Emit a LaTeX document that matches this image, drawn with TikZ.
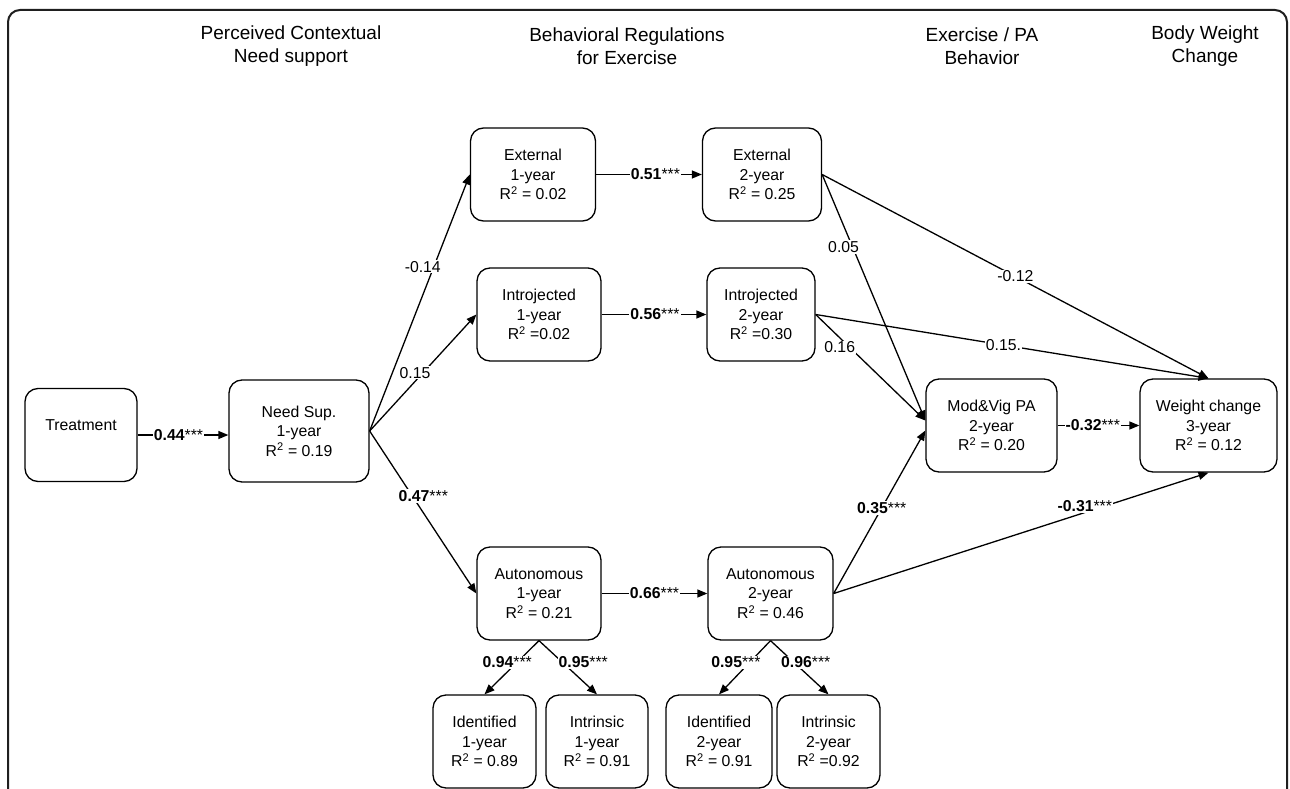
\documentclass[tikz,border=0pt]{standalone}
\usepackage{fontspec}
\setmainfont{Liberation Sans}
\usetikzlibrary{arrows.meta,calc}
\begin{document}
\begin{tikzpicture}[x=1pt,y=-1pt,
  box/.style={draw=black, line width=1.3pt, rounded corners=13pt, align=center,
    font=\fontsize{15.8}{19.5}\selectfont, inner sep=0pt},
  hdr/.style={align=center, font=\fontsize{19}{22.5}\selectfont},
  arr/.style={line width=1.3pt, -{Triangle[length=10pt,width=8pt]}},
  lab/.style={fill=white, inner sep=1pt, font=\fontsize{15.8}{19}\selectfont},
]
\useasboundingbox (0,0) rectangle (1290,789);
\draw[line width=2pt, color=black!88, rounded corners=12pt] (8,820) -- (8,10) -- (1287,10) -- (1287,820);

% headers
\node[hdr] (h1) at (291,46) {Perceived Contextual\\Need support};
\node[hdr] (h2) at (627,46) {Behavioral Regulations\\for Exercise};
\node[hdr] (h3) at (982,46) {Exercise / PA\\Behavior};
\node[hdr] (h4) at (1205,46) {Body Weight\\Change};

% boxes
\node[box, minimum width=112pt, minimum height=93pt] (tr) at (81,435) {Treatment\\\mbox{}};
\node[box, minimum width=140pt, minimum height=102pt] (ns) at (299,431) {Need Sup.\\1-year\\R\textsuperscript{2} = 0.19};
\node[box, minimum width=125pt, minimum height=93pt] (e1) at (533,174.5) {External\\1-year\\R\textsuperscript{2} = 0.02};
\node[box, minimum width=119pt, minimum height=93pt] (e2) at (762,174.5) {External\\2-year\\R\textsuperscript{2} = 0.25};
\node[box, minimum width=124pt, minimum height=93pt] (i1) at (539,314.5) {Introjected\\1-year\\R\textsuperscript{2} =0.02};
\node[box, minimum width=108pt, minimum height=93pt] (i2) at (761,314.5) {Introjected\\2-year\\R\textsuperscript{2} =0.30};
\node[box, minimum width=124pt, minimum height=93pt] (a1) at (539,593.5) {Autonomous\\1-year\\R\textsuperscript{2} = 0.21};
\node[box, minimum width=125pt, minimum height=93pt] (a2) at (770.5,593.5) {Autonomous\\2-year\\R\textsuperscript{2} = 0.46};
\node[box, minimum width=131pt, minimum height=93pt] (mv) at (991.5,425.5) {Mod\&Vig PA\\2-year\\R\textsuperscript{2} = 0.20};
\node[box, minimum width=137pt, minimum height=93pt] (wc) at (1208.5,425.5) {Weight change\\3-year\\R\textsuperscript{2} = 0.12};
\node[box, minimum width=103pt, minimum height=93pt] (d1) at (484.5,741.5) {Identified\\1-year\\R\textsuperscript{2} = 0.89};
\node[box, minimum width=102pt, minimum height=93pt] (n1) at (597,741.5) {Intrinsic\\1-year\\R\textsuperscript{2} = 0.91};
\node[box, minimum width=106pt, minimum height=93pt] (d2) at (719,741.5) {Identified\\2-year\\R\textsuperscript{2} = 0.91};
\node[box, minimum width=103pt, minimum height=93pt] (n2) at (828.5,741.5) {Intrinsic\\2-year\\R\textsuperscript{2} =0.92};

% connectors
\draw[arr] (tr.east) -- node[lab,pos=0.45]{\textbf{0.44}***} (tr.east -| ns.west);
\draw[arr] (ns.east) -- node[lab,pos=0.64,xshift=-11]{-0.14} (e1.west);
\draw[arr] (ns.east) -- node[lab,pos=0.5,xshift=-8]{0.15} (i1.west);
\draw[arr] (ns.east) -- node[lab,pos=0.4,xshift=11]{\textbf{0.47}***} (a1.west);

\draw[arr] (e1.east) -- node[lab,pos=0.56]{\textbf{0.51}***} (e2.west);
\draw[arr] (i1.east) -- node[lab,pos=0.51]{\textbf{0.56}***} (i2.west);
\draw[arr] (a1.east) -- node[lab,pos=0.5]{\textbf{0.66}***} (a2.west);

\draw[arr] (e2.east) -- node[lab,pos=0.5]{-0.12} (wc.north);
\draw[arr] (i2.east) -- node[lab,pos=0.478]{0.15.} (wc.north);
\draw[arr] (e2.east) -- node[lab,pos=0.295,xshift=-9]{0.05} ($(mv.west)+(0,-5)$);
\draw[arr] (i2.east) -- node[lab,pos=0.31,xshift=-10]{0.16} ($(mv.west)+(0,-5)$);
\draw[arr] (a2.east) -- node[lab,pos=0.525]{\textbf{0.35}***} ($(mv.west)+(0,5)$);
\draw[arr] (a2.east) -- node[lab,pos=0.67,yshift=6]{\textbf{-0.31}***} (wc.south);
\draw[arr] (mv.east) -- node[lab,pos=0.43]{\textbf{-0.32}***} (wc.west);

\draw[arr] (a1.south) -- node[lab,pos=0.4,xshift=-10]{\textbf{0.94}***} (d1.north);
\draw[arr] (a1.south) -- node[lab,pos=0.4,xshift=21]{\textbf{0.95}***} (n1.north);
\draw[arr] (a2.south) -- node[lab,pos=0.4,xshift=-14]{\textbf{0.95}***} (d2.north);
\draw[arr] (a2.south) -- node[lab,pos=0.4,xshift=12]{\textbf{0.96}***} (n2.north);
\end{tikzpicture}
\end{document}
